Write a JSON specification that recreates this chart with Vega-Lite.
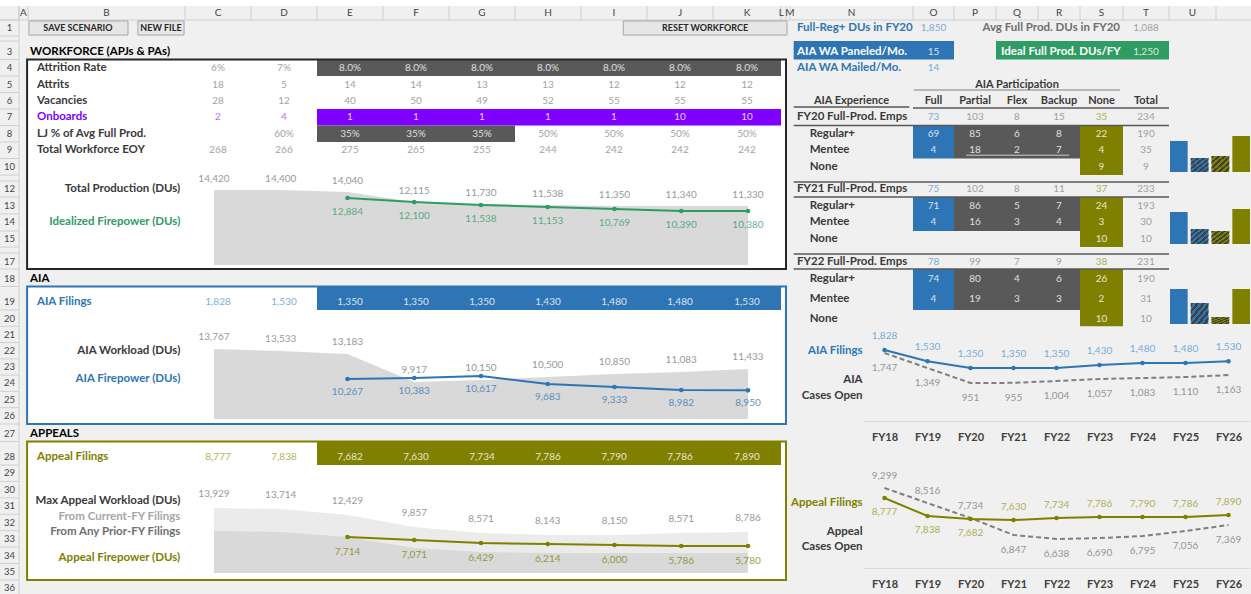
{
"$schema": "https://vega.github.io/schema/vega-lite/v6.json",
"width": 1251, "height": 594, "autosize": "none", "padding": 0,
"background": "#f0f0f0",
"config": {"view": {"stroke": null}, "font": "Lato"},
"resolve": {"scale": {"x": "independent", "y": "independent", "color": "independent", "stroke": "independent"}},
"datasets": {
"cells": [
{"c1":5,"c2":12,"r1":4,"r2":5,"k":"input"},
{"c1":5,"c2":12,"r1":7,"r2":8,"k":"onboard"},
{"c1":5,"c2":8,"r1":8,"r2":9,"k":"input"},
{"c1":5,"c2":12,"r1":19,"r2":20,"k":"aia"},
{"c1":5,"c2":12,"r1":28,"r2":29,"k":"appeal"},
{"c1":14.03,"c2":16,"r1":3,"r2":4,"k":"aia"},
{"c1":17,"c2":21,"r1":3,"r2":4,"k":"ideal"},
{"c1":15,"c2":16,"r1":8,"r2":10,"k":"aia"},
{"c1":16,"c2":19,"r1":8,"r2":10,"k":"input"},
{"c1":19,"c2":20,"r1":8,"r2":11,"k":"appeal"},
{"c1":15,"c2":16,"r1":13,"r2":15,"k":"aia"},
{"c1":16,"c2":19,"r1":13,"r2":15,"k":"input"},
{"c1":19,"c2":20,"r1":13,"r2":16,"k":"appeal"},
{"c1":15,"c2":16,"r1":18,"r2":20,"k":"aia"},
{"c1":16,"c2":19,"r1":18,"r2":20,"k":"input"},
{"c1":19,"c2":20,"r1":18,"r2":21,"k":"appeal"}],
"boxes": [
{"c1":1.9,"c2":13,"r1":4,"r2":18,"k":"wf"},
{"c1":1.9,"c2":13,"r1":19,"r2":27,"k":"aia"},
{"c1":1.9,"c2":13,"r1":28,"r2":36,"k":"appeal"}],
"buttons": [
{"c1":2.006,"c2":2.637,"r1":1.06,"r2":1.94},
{"c1":2.70,"c2":2.994,"r1":1.06,"r2":1.94},
{"c1":9.64,"c2":13.25,"r1":1.06,"r2":1.94}],
"btntext": [
{"c":2.318,"r":1,"s":"SAVE SCENARIO"},
{"c":2.847,"r":1,"s":"NEW FILE"},
{"c":10.88,"r":1,"s":"RESET WORKFORCE"}],
"lines": [
{"c1":15.02,"c2":19.93,"r":5.85,"k":"light"},
{"c1":14.03,"c2":14.97,"r":6.88,"k":"dark"},
{"c1":15,"c2":21,"r":6.94,"k":"dark"},
{"c1":14.03,"c2":21,"r":8,"k":"dark"},
{"c1":14.03,"c2":21,"r":12.06,"k":"dark"},
{"c1":14.03,"c2":21,"r":13,"k":"dark"},
{"c1":14.03,"c2":21,"r":17.06,"k":"dark"},
{"c1":14.03,"c2":21,"r":18,"k":"dark"},
{"c1":16.29,"c2":18.74,"r":9.8,"k":"light"}],
"colsep": [{"c":1},{"c":2},{"c":3},{"c":4},{"c":5},{"c":6},{"c":7},{"c":8},{"c":9},{"c":10},{"c":11},{"c":12},{"c":13},{"c":14},{"c":15},{"c":16},{"c":17},{"c":18},{"c":19},{"c":20},{"c":21},{"c":22}],
"rowsep": [{"r":1},{"r":2},{"r":3},{"r":4},{"r":5},{"r":6},{"r":7},{"r":8},{"r":9},{"r":10},{"r":11},{"r":12},{"r":13},{"r":14},{"r":15},{"r":16},{"r":17},{"r":18},{"r":19},{"r":20},{"r":21},{"r":22},{"r":23},{"r":24},{"r":25},{"r":26},{"r":27},{"r":28},{"r":29},{"r":30},{"r":31},{"r":32},{"r":33},{"r":34},{"r":35},{"r":36},{"r":37}],
"colhdr": [{"c":1.5,"s":"A"},{"c":2.5,"s":"B"},{"c":3.5,"s":"C"},{"c":4.5,"s":"D"},{"c":5.5,"s":"E"},{"c":6.5,"s":"F"},{"c":7.5,"s":"G"},{"c":8.5,"s":"H"},{"c":9.5,"s":"I"},{"c":10.5,"s":"J"},{"c":11.5,"s":"K"},{"c":12.05,"s":"L"},{"c":13.98,"s":"M"},{"c":14.5,"s":"N"},{"c":15.5,"s":"O"},{"c":16.5,"s":"P"},{"c":17.5,"s":"Q"},{"c":18.5,"s":"R"},{"c":19.5,"s":"S"},{"c":20.5,"s":"T"},{"c":21.5,"s":"U"}],
"rownum": [{"r":1},{"r":3},{"r":4},{"r":5},{"r":6},{"r":7},{"r":8},{"r":9},{"r":10},{"r":12},{"r":13},{"r":14},{"r":15},{"r":17},{"r":18},{"r":19},{"r":20},{"r":21},{"r":22},{"r":23},{"r":24},{"r":25},{"r":26},{"r":27},{"r":28},{"r":29},{"r":30},{"r":31},{"r":32},{"r":33},{"r":34},{"r":35},{"r":36}],
"tl": [
{"c":2.013,"r":3,"s":"WORKFORCE (APJs & PAs)","g":"head"},
{"c":2.057,"r":4,"s":"Attrition Rate","g":"label"},
{"c":2.057,"r":5,"s":"Attrits","g":"label"},
{"c":2.057,"r":6,"s":"Vacancies","g":"label"},
{"c":2.057,"r":7,"s":"Onboards","g":"onboard"},
{"c":2.057,"r":8,"s":"LJ % of Avg Full Prod.","g":"label"},
{"c":2.057,"r":9,"s":"Total Workforce EOY","g":"label"},
{"c":2.013,"r":18,"s":"AIA","g":"head"},
{"c":2.057,"r":19,"s":"AIA Filings","g":"aia"},
{"c":2.013,"r":27,"s":"APPEALS","g":"head"},
{"c":2.057,"r":28,"s":"Appeal Filings","g":"appeal"},
{"c":14.057,"r":1,"s":"Full-Reg+ DUs in FY20","g":"aia"},
{"c":14.057,"r":3,"s":"AIA WA Paneled/Mo.","g":"white"},
{"c":14.057,"r":4,"s":"AIA WA Mailed/Mo.","g":"aia"},
{"c":17.12,"r":3,"s":"Ideal Full Prod. DUs/FY","g":"white"},
{"c":14.057,"r":7,"s":"FY20 Full-Prod. Emps","g":"label"},
{"c":14.16,"r":8,"s":"Regular+","g":"label"},
{"c":14.16,"r":9,"s":"Mentee","g":"label"},
{"c":14.16,"r":10,"s":"None","g":"label"},
{"c":14.057,"r":12,"s":"FY21 Full-Prod. Emps","g":"label"},
{"c":14.16,"r":13,"s":"Regular+","g":"label"},
{"c":14.16,"r":14,"s":"Mentee","g":"label"},
{"c":14.16,"r":15,"s":"None","g":"label"},
{"c":14.057,"r":17,"s":"FY22 Full-Prod. Emps","g":"label"},
{"c":14.16,"r":18,"s":"Regular+","g":"label"},
{"c":14.16,"r":18.85,"s":"Mentee","g":"label"},
{"c":14.16,"r":20,"s":"None","g":"label"}],
"tc": [
{"c":3.5,"r":3,"s":"FY18"},{"c":4.5,"r":3,"s":"FY19"},{"c":5.5,"r":3,"s":"FY20"},{"c":6.5,"r":3,"s":"FY21"},{"c":7.5,"r":3,"s":"FY22"},{"c":8.5,"r":3,"s":"FY23"},{"c":9.5,"r":3,"s":"FY24"},{"c":10.5,"r":3,"s":"FY25"},{"c":11.5,"r":3,"s":"FY26"},
{"c":3.5,"r":18,"s":"FY18"},{"c":4.5,"r":18,"s":"FY19"},{"c":5.5,"r":18,"s":"FY20"},{"c":6.5,"r":18,"s":"FY21"},{"c":7.5,"r":18,"s":"FY22"},{"c":8.5,"r":18,"s":"FY23"},{"c":9.5,"r":18,"s":"FY24"},{"c":10.5,"r":18,"s":"FY25"},{"c":11.5,"r":18,"s":"FY26"},
{"c":3.5,"r":27,"s":"FY18"},{"c":4.5,"r":27,"s":"FY19"},{"c":5.5,"r":27,"s":"FY20"},{"c":6.5,"r":27,"s":"FY21"},{"c":7.5,"r":27,"s":"FY22"},{"c":8.5,"r":27,"s":"FY23"},{"c":9.5,"r":27,"s":"FY24"},{"c":10.5,"r":27,"s":"FY25"},{"c":11.5,"r":27,"s":"FY26"},
{"c":17.5,"r":5,"s":"AIA Participation","g":"label"},
{"c":14.5,"r":6,"s":"AIA Experience","g":"label"},
{"c":15.5,"r":6,"s":"Full","g":"label"},
{"c":16.5,"r":6,"s":"Partial","g":"label"},
{"c":17.5,"r":6,"s":"Flex","g":"label"},
{"c":18.5,"r":6,"s":"Backup","g":"label"},
{"c":19.5,"r":6,"s":"None","g":"label"},
{"c":20.5,"r":6,"s":"Total","g":"label"}],
"tr": [
{"c":2.97,"r":12,"s":"Total Production (DUs)","g":"label"},
{"c":2.97,"r":14,"s":"Idealized Firepower (DUs)","g":"ideal"},
{"c":2.97,"r":22,"s":"AIA Workload (DUs)","g":"label"},
{"c":2.97,"r":23.75,"s":"AIA Firepower (DUs)","g":"aia"},
{"c":2.97,"r":30.7,"s":"Max Appeal Workload (DUs)","g":"label"},
{"c":2.97,"r":31.67,"s":"From Current-FY Filings","g":"light"},
{"c":2.97,"r":32.58,"s":"From Any Prior-FY Filings","g":"mid"},
{"c":2.97,"r":34.15,"s":"Appeal Firepower (DUs)","g":"appeal"},
{"c":19.93,"r":1,"s":"Avg Full Prod. DUs in FY20","g":"mid"},
{"c":14.59,"r":22,"s":"AIA Filings","g":"aia"},
{"c":14.59,"r":23.8,"s":"AIA","g":"label"},
{"c":14.59,"r":24.8,"s":"Cases Open","g":"label"},
{"c":14.59,"r":30.8,"s":"Appeal Filings","g":"appeal"},
{"c":14.59,"r":32.58,"s":"Appeal","g":"label"},
{"c":14.59,"r":33.48,"s":"Cases Open","g":"label"}],
"vals": [
{"c":3.5,"r":4,"s":"6%","g":"val"},{"c":4.5,"r":4,"s":"7%","g":"val"},{"c":5.5,"r":4,"s":"8.0%","g":"white"},{"c":6.5,"r":4,"s":"8.0%","g":"white"},{"c":7.5,"r":4,"s":"8.0%","g":"white"},{"c":8.5,"r":4,"s":"8.0%","g":"white"},{"c":9.5,"r":4,"s":"8.0%","g":"white"},{"c":10.5,"r":4,"s":"8.0%","g":"white"},{"c":11.5,"r":4,"s":"8.0%","g":"white"},
{"c":3.5,"r":5,"s":"18","g":"val"},{"c":4.5,"r":5,"s":"5","g":"val"},{"c":5.5,"r":5,"s":"14","g":"val"},{"c":6.5,"r":5,"s":"14","g":"val"},{"c":7.5,"r":5,"s":"13","g":"val"},{"c":8.5,"r":5,"s":"13","g":"val"},{"c":9.5,"r":5,"s":"12","g":"val"},{"c":10.5,"r":5,"s":"12","g":"val"},{"c":11.5,"r":5,"s":"12","g":"val"},
{"c":3.5,"r":6,"s":"28","g":"val"},{"c":4.5,"r":6,"s":"12","g":"val"},{"c":5.5,"r":6,"s":"40","g":"val"},{"c":6.5,"r":6,"s":"50","g":"val"},{"c":7.5,"r":6,"s":"49","g":"val"},{"c":8.5,"r":6,"s":"52","g":"val"},{"c":9.5,"r":6,"s":"55","g":"val"},{"c":10.5,"r":6,"s":"55","g":"val"},{"c":11.5,"r":6,"s":"55","g":"val"},
{"c":3.5,"r":7,"s":"2","g":"onboardv"},{"c":4.5,"r":7,"s":"4","g":"onboardv"},{"c":5.5,"r":7,"s":"1","g":"white"},{"c":6.5,"r":7,"s":"1","g":"white"},{"c":7.5,"r":7,"s":"1","g":"white"},{"c":8.5,"r":7,"s":"1","g":"white"},{"c":9.5,"r":7,"s":"1","g":"white"},{"c":10.5,"r":7,"s":"10","g":"white"},{"c":11.5,"r":7,"s":"10","g":"white"},
{"c":4.5,"r":8,"s":"60%","g":"val"},{"c":5.5,"r":8,"s":"35%","g":"white"},{"c":6.5,"r":8,"s":"35%","g":"white"},{"c":7.5,"r":8,"s":"35%","g":"white"},{"c":8.5,"r":8,"s":"50%","g":"val"},{"c":9.5,"r":8,"s":"50%","g":"val"},{"c":10.5,"r":8,"s":"50%","g":"val"},{"c":11.5,"r":8,"s":"50%","g":"val"},
{"c":3.5,"r":9,"s":"268","g":"val"},{"c":4.5,"r":9,"s":"266","g":"val"},{"c":5.5,"r":9,"s":"275","g":"val"},{"c":6.5,"r":9,"s":"265","g":"val"},{"c":7.5,"r":9,"s":"255","g":"val"},{"c":8.5,"r":9,"s":"244","g":"val"},{"c":9.5,"r":9,"s":"242","g":"val"},{"c":10.5,"r":9,"s":"242","g":"val"},{"c":11.5,"r":9,"s":"242","g":"val"},
{"c":3.5,"r":19,"s":"1,828","g":"aiav"},{"c":4.5,"r":19,"s":"1,530","g":"aiav"},{"c":5.5,"r":19,"s":"1,350","g":"white"},{"c":6.5,"r":19,"s":"1,350","g":"white"},{"c":7.5,"r":19,"s":"1,350","g":"white"},{"c":8.5,"r":19,"s":"1,430","g":"white"},{"c":9.5,"r":19,"s":"1,480","g":"white"},{"c":10.5,"r":19,"s":"1,480","g":"white"},{"c":11.5,"r":19,"s":"1,530","g":"white"},
{"c":3.5,"r":28,"s":"8,777","g":"appealv"},{"c":4.5,"r":28,"s":"7,838","g":"appealv"},{"c":5.5,"r":28,"s":"7,682","g":"white"},{"c":6.5,"r":28,"s":"7,630","g":"white"},{"c":7.5,"r":28,"s":"7,734","g":"white"},{"c":8.5,"r":28,"s":"7,786","g":"white"},{"c":9.5,"r":28,"s":"7,790","g":"white"},{"c":10.5,"r":28,"s":"7,786","g":"white"},{"c":11.5,"r":28,"s":"7,890","g":"white"},
{"c":15.5,"r":1,"s":"1,850","g":"aiav"},{"c":20.5,"r":1,"s":"1,088","g":"val"},
{"c":15.5,"r":3,"s":"15","g":"white"},{"c":20.5,"r":3,"s":"1,250","g":"white"},
{"c":15.5,"r":4,"s":"14","g":"aiav"},
{"c":15.5,"r":7,"s":"73","g":"aiav"},{"c":16.5,"r":7,"s":"103","g":"val"},{"c":17.5,"r":7,"s":"8","g":"val"},{"c":18.5,"r":7,"s":"15","g":"val"},{"c":19.5,"r":7,"s":"35","g":"appealv"},{"c":20.5,"r":7,"s":"234","g":"val"},
{"c":15.5,"r":8,"s":"69","g":"white"},{"c":16.5,"r":8,"s":"85","g":"white"},{"c":17.5,"r":8,"s":"6","g":"white"},{"c":18.5,"r":8,"s":"8","g":"white"},{"c":19.5,"r":8,"s":"22","g":"white"},{"c":20.5,"r":8,"s":"190","g":"val"},
{"c":15.5,"r":9,"s":"4","g":"white"},{"c":16.5,"r":9,"s":"18","g":"white"},{"c":17.5,"r":9,"s":"2","g":"white"},{"c":18.5,"r":9,"s":"7","g":"white"},{"c":19.5,"r":9,"s":"4","g":"white"},{"c":20.5,"r":9,"s":"35","g":"val"},
{"c":19.5,"r":10,"s":"9","g":"white"},{"c":20.5,"r":10,"s":"9","g":"val"},
{"c":15.5,"r":12,"s":"75","g":"aiav"},{"c":16.5,"r":12,"s":"102","g":"val"},{"c":17.5,"r":12,"s":"8","g":"val"},{"c":18.5,"r":12,"s":"11","g":"val"},{"c":19.5,"r":12,"s":"37","g":"appealv"},{"c":20.5,"r":12,"s":"233","g":"val"},
{"c":15.5,"r":13,"s":"71","g":"white"},{"c":16.5,"r":13,"s":"86","g":"white"},{"c":17.5,"r":13,"s":"5","g":"white"},{"c":18.5,"r":13,"s":"7","g":"white"},{"c":19.5,"r":13,"s":"24","g":"white"},{"c":20.5,"r":13,"s":"193","g":"val"},
{"c":15.5,"r":14,"s":"4","g":"white"},{"c":16.5,"r":14,"s":"16","g":"white"},{"c":17.5,"r":14,"s":"3","g":"white"},{"c":18.5,"r":14,"s":"4","g":"white"},{"c":19.5,"r":14,"s":"3","g":"white"},{"c":20.5,"r":14,"s":"30","g":"val"},
{"c":19.5,"r":15,"s":"10","g":"white"},{"c":20.5,"r":15,"s":"10","g":"val"},
{"c":15.5,"r":17,"s":"78","g":"aiav"},{"c":16.5,"r":17,"s":"99","g":"val"},{"c":17.5,"r":17,"s":"7","g":"val"},{"c":18.5,"r":17,"s":"9","g":"val"},{"c":19.5,"r":17,"s":"38","g":"appealv"},{"c":20.5,"r":17,"s":"231","g":"val"},
{"c":15.5,"r":18,"s":"74","g":"white"},{"c":16.5,"r":18,"s":"80","g":"white"},{"c":17.5,"r":18,"s":"4","g":"white"},{"c":18.5,"r":18,"s":"6","g":"white"},{"c":19.5,"r":18,"s":"26","g":"white"},{"c":20.5,"r":18,"s":"190","g":"val"},
{"c":15.5,"r":18.85,"s":"4","g":"white"},{"c":16.5,"r":18.85,"s":"19","g":"white"},{"c":17.5,"r":18.85,"s":"3","g":"white"},{"c":18.5,"r":18.85,"s":"3","g":"white"},{"c":19.5,"r":18.85,"s":"2","g":"white"},{"c":20.5,"r":18.85,"s":"31","g":"val"},
{"c":19.5,"r":20,"s":"10","g":"white"},{"c":20.5,"r":20,"s":"10","g":"val"}],
"wf": [
{"fy":"FY18","prod":14420},{"fy":"FY19","prod":14400},{"fy":"FY20","prod":14040,"ideal":12884},{"fy":"FY21","prod":12115,"ideal":12100},{"fy":"FY22","prod":11730,"ideal":11538},{"fy":"FY23","prod":11538,"ideal":11153},{"fy":"FY24","prod":11350,"ideal":10769},{"fy":"FY25","prod":11340,"ideal":10390},{"fy":"FY26","prod":11330,"ideal":10380}],
"aia": [
{"fy":"FY18","wl":13767},{"fy":"FY19","wl":13533},{"fy":"FY20","wl":13183,"fp":10267},{"fy":"FY21","wl":9917,"fp":10383},{"fy":"FY22","wl":10150,"fp":10617},{"fy":"FY23","wl":10500,"fp":9683},{"fy":"FY24","wl":10850,"fp":9333},{"fy":"FY25","wl":11083,"fp":8982},{"fy":"FY26","wl":11433,"fp":8950}],
"app": [
{"fy":"FY18","tot":13929,"prior":9000},{"fy":"FY19","tot":13714,"prior":8786},{"fy":"FY20","tot":12429,"prior":7714,"fp":7714},{"fy":"FY21","tot":9857,"prior":5357,"fp":7071},{"fy":"FY22","tot":8571,"prior":4500,"fp":6429},{"fy":"FY23","tot":8143,"prior":4286,"fp":6214},{"fy":"FY24","tot":8150,"prior":4280,"fp":6000},{"fy":"FY25","tot":8571,"prior":4290,"fp":5786},{"fy":"FY26","tot":8786,"prior":4300,"fp":5780}],
"aiaR": [
{"fy":"FY18","fil":1828,"open":1747},{"fy":"FY19","fil":1530,"open":1349},{"fy":"FY20","fil":1350,"open":951},{"fy":"FY21","fil":1350,"open":955},{"fy":"FY22","fil":1350,"open":1004},{"fy":"FY23","fil":1430,"open":1057},{"fy":"FY24","fil":1480,"open":1083},{"fy":"FY25","fil":1480,"open":1110},{"fy":"FY26","fil":1530,"open":1163}],
"appR": [
{"fy":"FY18","fil":8777,"open":9299},{"fy":"FY19","fil":7838,"open":8516},{"fy":"FY20","fil":7682,"open":7734},{"fy":"FY21","fil":7630,"open":6847},{"fy":"FY22","fil":7734,"open":6638},{"fy":"FY23","fil":7786,"open":6690},{"fy":"FY24","fil":7790,"open":6795},{"fy":"FY25","fil":7786,"open":7056},{"fy":"FY26","fil":7890,"open":7369}],
"bars": [
{"grp":"FY20","k":"Full","v":31},{"grp":"FY20","k":"Partial","v":14},{"grp":"FY20","k":"Flex","v":16},{"grp":"FY20","k":"None","v":36},
{"grp":"FY21","k":"Full","v":32},{"grp":"FY21","k":"Partial","v":15},{"grp":"FY21","k":"Flex","v":13},{"grp":"FY21","k":"None","v":35},
{"grp":"FY22","k":"Full","v":35},{"grp":"FY22","k":"Partial","v":21},{"grp":"FY22","k":"Flex","v":7},{"grp":"FY22","k":"None","v":35}]
},
"layer": [
{"data":{"values":[{}]},"mark":{"type":"rect","color":"#ffffff"},
 "encoding":{"x":{"datum":0,"type":"quantitative","scale":{"type":"linear","domain":[0,1,2,3,4,5,6,7,8,9,10,11,12,13,14,15,16,17,18,19,20,21,22,23],"range":[0,19,28,185,251,317,383,449,515,581,647,713,781,786,790,913,954,996,1038,1080,1123,1169,1216,1251],"nice":false,"zero":false},"axis":null},"x2":{"datum":23},
 "y":{"datum":-1,"type":"quantitative","scale":{"type":"linear","domain":[-1,0,1,2,3,4,5,6,7,8,9,10,11,12,13,14,15,16,17,18,19,20,21,22,23,24,25,26,27,28,29,30,31,32,33,34,35,36,37],"range":[0,6,20,36,41,59.5,76,92.5,109,125.5,142,158.5,175,181,197,214,231,247,253,269,286.5,310,326.3,342.6,358.9,375.1,391.4,407.7,424,441.5,465,481.4,497.9,514.3,530.7,547.1,563.6,580,596],"nice":false,"zero":false},"axis":null},"y2":{"datum":0}}},
{"data":{"values":[{}]},"mark":{"type":"rule","color":"#d0d0d0","strokeWidth":1},
 "encoding":{"x":{"datum":0,"type":"quantitative","scale":{"type":"linear","domain":[0,1,2,3,4,5,6,7,8,9,10,11,12,13,14,15,16,17,18,19,20,21,22,23],"range":[0,19,28,185,251,317,383,449,515,581,647,713,781,786,790,913,954,996,1038,1080,1123,1169,1216,1251],"nice":false,"zero":false},"axis":null},"x2":{"datum":23},
 "y":{"datum":1,"type":"quantitative","scale":{"type":"linear","domain":[-1,0,1,2,3,4,5,6,7,8,9,10,11,12,13,14,15,16,17,18,19,20,21,22,23,24,25,26,27,28,29,30,31,32,33,34,35,36,37],"range":[0,6,20,36,41,59.5,76,92.5,109,125.5,142,158.5,175,181,197,214,231,247,253,269,286.5,310,326.3,342.6,358.9,375.1,391.4,407.7,424,441.5,465,481.4,497.9,514.3,530.7,547.1,563.6,580,596],"nice":false,"zero":false},"axis":null}}},
{"data":{"values":[{}]},"mark":{"type":"rule","color":"#d0d0d0","strokeWidth":1},
 "encoding":{"x":{"datum":1,"type":"quantitative","scale":{"type":"linear","domain":[0,1,2,3,4,5,6,7,8,9,10,11,12,13,14,15,16,17,18,19,20,21,22,23],"range":[0,19,28,185,251,317,383,449,515,581,647,713,781,786,790,913,954,996,1038,1080,1123,1169,1216,1251],"nice":false,"zero":false},"axis":null},
 "y":{"datum":0,"type":"quantitative","scale":{"type":"linear","domain":[-1,0,1,2,3,4,5,6,7,8,9,10,11,12,13,14,15,16,17,18,19,20,21,22,23,24,25,26,27,28,29,30,31,32,33,34,35,36,37],"range":[0,6,20,36,41,59.5,76,92.5,109,125.5,142,158.5,175,181,197,214,231,247,253,269,286.5,310,326.3,342.6,358.9,375.1,391.4,407.7,424,441.5,465,481.4,497.9,514.3,530.7,547.1,563.6,580,596],"nice":false,"zero":false},"axis":null},"y2":{"datum":37}}},
{"data":{"name":"colsep"},"mark":{"type":"rule","color":"#d0d0d0","strokeWidth":1},
 "encoding":{"x":{"field":"c","type":"quantitative","scale":{"type":"linear","domain":[0,1,2,3,4,5,6,7,8,9,10,11,12,13,14,15,16,17,18,19,20,21,22,23],"range":[0,19,28,185,251,317,383,449,515,581,647,713,781,786,790,913,954,996,1038,1080,1123,1169,1216,1251],"nice":false,"zero":false},"axis":null},
 "y":{"datum":0,"type":"quantitative","scale":{"type":"linear","domain":[-1,0,1,2,3,4,5,6,7,8,9,10,11,12,13,14,15,16,17,18,19,20,21,22,23,24,25,26,27,28,29,30,31,32,33,34,35,36,37],"range":[0,6,20,36,41,59.5,76,92.5,109,125.5,142,158.5,175,181,197,214,231,247,253,269,286.5,310,326.3,342.6,358.9,375.1,391.4,407.7,424,441.5,465,481.4,497.9,514.3,530.7,547.1,563.6,580,596],"nice":false,"zero":false},"axis":null},"y2":{"datum":1}}},
{"data":{"name":"rowsep"},"mark":{"type":"rule","color":"#d0d0d0","strokeWidth":1},
 "encoding":{"x":{"datum":0,"type":"quantitative","scale":{"type":"linear","domain":[0,1,2,3,4,5,6,7,8,9,10,11,12,13,14,15,16,17,18,19,20,21,22,23],"range":[0,19,28,185,251,317,383,449,515,581,647,713,781,786,790,913,954,996,1038,1080,1123,1169,1216,1251],"nice":false,"zero":false},"axis":null},"x2":{"datum":1},
 "y":{"field":"r","type":"quantitative","scale":{"type":"linear","domain":[-1,0,1,2,3,4,5,6,7,8,9,10,11,12,13,14,15,16,17,18,19,20,21,22,23,24,25,26,27,28,29,30,31,32,33,34,35,36,37],"range":[0,6,20,36,41,59.5,76,92.5,109,125.5,142,158.5,175,181,197,214,231,247,253,269,286.5,310,326.3,342.6,358.9,375.1,391.4,407.7,424,441.5,465,481.4,497.9,514.3,530.7,547.1,563.6,580,596],"nice":false,"zero":false},"axis":null}}},
{"data":{"name":"colhdr"},"mark":{"type":"text","font":"Lato","fontSize":10,"color":"#444444","baseline":"middle","align":"center"},
 "encoding":{"x":{"field":"c","type":"quantitative","scale":{"type":"linear","domain":[0,1,2,3,4,5,6,7,8,9,10,11,12,13,14,15,16,17,18,19,20,21,22,23],"range":[0,19,28,185,251,317,383,449,515,581,647,713,781,786,790,913,954,996,1038,1080,1123,1169,1216,1251],"nice":false,"zero":false},"axis":null},
 "y":{"datum":0,"type":"quantitative","scale":{"type":"linear","domain":[0,1,2,3,4,5,6,7,8,9,10,11,12,13,14,15,16,17,18,19,20,21,22,23,24,25,26,27,28,29,30,31,32,33,34,35,36],"range":[13,28,38.5,52,68,84.5,100.5,117,134,150,166.5,178,189,206,222,239,250,261.5,279,302,318.5,334.5,350.5,367,383,399.5,416,433.5,457,473,490,506,522.5,539,555.5,572,588],"nice":false,"zero":false},"axis":null},
 "text":{"field":"s"}}},
{"data":{"name":"rownum"},"mark":{"type":"text","font":"Lato","fontSize":9.5,"color":"#444444","baseline":"middle","align":"center"},
 "encoding":{"x":{"datum":0.5,"type":"quantitative","scale":{"type":"linear","domain":[0,1,2,3,4,5,6,7,8,9,10,11,12,13,14,15,16,17,18,19,20,21,22,23],"range":[0,19,28,185,251,317,383,449,515,581,647,713,781,786,790,913,954,996,1038,1080,1123,1169,1216,1251],"nice":false,"zero":false},"axis":null},
 "y":{"field":"r","type":"quantitative","scale":{"type":"linear","domain":[0,1,2,3,4,5,6,7,8,9,10,11,12,13,14,15,16,17,18,19,20,21,22,23,24,25,26,27,28,29,30,31,32,33,34,35,36],"range":[13,28,38.5,52,68,84.5,100.5,117,134,150,166.5,178,189,206,222,239,250,261.5,279,302,318.5,334.5,350.5,367,383,399.5,416,433.5,457,473,490,506,522.5,539,555.5,572,588],"nice":false,"zero":false},"axis":null},
 "text":{"field":"r","type":"nominal"}}},
{"data":{"name":"boxes"},"mark":{"type":"rect","color":"#ffffff"},
 "encoding":{"x":{"field":"c1","type":"quantitative","scale":{"type":"linear","domain":[0,1,2,3,4,5,6,7,8,9,10,11,12,13,14,15,16,17,18,19,20,21,22,23],"range":[0,19,28,185,251,317,383,449,515,581,647,713,781,786,790,913,954,996,1038,1080,1123,1169,1216,1251],"nice":false,"zero":false},"axis":null},"x2":{"field":"c2"},
 "y":{"field":"r1","type":"quantitative","scale":{"type":"linear","domain":[-1,0,1,2,3,4,5,6,7,8,9,10,11,12,13,14,15,16,17,18,19,20,21,22,23,24,25,26,27,28,29,30,31,32,33,34,35,36,37],"range":[0,6,20,36,41,59.5,76,92.5,109,125.5,142,158.5,175,181,197,214,231,247,253,269,286.5,310,326.3,342.6,358.9,375.1,391.4,407.7,424,441.5,465,481.4,497.9,514.3,530.7,547.1,563.6,580,596],"nice":false,"zero":false},"axis":null},"y2":{"field":"r2"}}},
{"data":{"name":"cells"},"mark":{"type":"rect"},
 "encoding":{"x":{"field":"c1","type":"quantitative","scale":{"type":"linear","domain":[0,1,2,3,4,5,6,7,8,9,10,11,12,13,14,15,16,17,18,19,20,21,22,23],"range":[0,19,28,185,251,317,383,449,515,581,647,713,781,786,790,913,954,996,1038,1080,1123,1169,1216,1251],"nice":false,"zero":false},"axis":null},"x2":{"field":"c2"},
 "y":{"field":"r1","type":"quantitative","scale":{"type":"linear","domain":[-1,0,1,2,3,4,5,6,7,8,9,10,11,12,13,14,15,16,17,18,19,20,21,22,23,24,25,26,27,28,29,30,31,32,33,34,35,36,37],"range":[0,6,20,36,41,59.5,76,92.5,109,125.5,142,158.5,175,181,197,214,231,247,253,269,286.5,310,326.3,342.6,358.9,375.1,391.4,407.7,424,441.5,465,481.4,497.9,514.3,530.7,547.1,563.6,580,596],"nice":false,"zero":false},"axis":null},"y2":{"field":"r2"},
 "color":{"field":"k","type":"nominal","scale":{"domain":["input","onboard","aia","appeal","ideal"],"range":["#595959","#7f00ff","#2e75b6","#808000","#2e9c63"]},"legend":null}}},
{"data":{"name":"buttons"},"mark":{"type":"rect","fill":"#e6e6e6","stroke":"#a6a6a6","strokeWidth":1},
 "encoding":{"x":{"field":"c1","type":"quantitative","scale":{"type":"linear","domain":[0,1,2,3,4,5,6,7,8,9,10,11,12,13,14,15,16,17,18,19,20,21,22,23],"range":[0,19,28,185,251,317,383,449,515,581,647,713,781,786,790,913,954,996,1038,1080,1123,1169,1216,1251],"nice":false,"zero":false},"axis":null},"x2":{"field":"c2"},
 "y":{"field":"r1","type":"quantitative","scale":{"type":"linear","domain":[-1,0,1,2,3,4,5,6,7,8,9,10,11,12,13,14,15,16,17,18,19,20,21,22,23,24,25,26,27,28,29,30,31,32,33,34,35,36,37],"range":[0,6,20,36,41,59.5,76,92.5,109,125.5,142,158.5,175,181,197,214,231,247,253,269,286.5,310,326.3,342.6,358.9,375.1,391.4,407.7,424,441.5,465,481.4,497.9,514.3,530.7,547.1,563.6,580,596],"nice":false,"zero":false},"axis":null},"y2":{"field":"r2"}}},
{"data":{"name":"btntext"},"mark":{"type":"text","font":"Lato","fontWeight":"bold","fontSize":9,"color":"#262626","baseline":"middle","align":"center"},
 "encoding":{"x":{"field":"c","type":"quantitative","scale":{"type":"linear","domain":[0,1,2,3,4,5,6,7,8,9,10,11,12,13,14,15,16,17,18,19,20,21,22,23],"range":[0,19,28,185,251,317,383,449,515,581,647,713,781,786,790,913,954,996,1038,1080,1123,1169,1216,1251],"nice":false,"zero":false},"axis":null},
 "y":{"field":"r","type":"quantitative","scale":{"type":"linear","domain":[0,1,2,3,4,5,6,7,8,9,10,11,12,13,14,15,16,17,18,19,20,21,22,23,24,25,26,27,28,29,30,31,32,33,34,35,36],"range":[13,28,38.5,52,68,84.5,100.5,117,134,150,166.5,178,189,206,222,239,250,261.5,279,302,318.5,334.5,350.5,367,383,399.5,416,433.5,457,473,490,506,522.5,539,555.5,572,588],"nice":false,"zero":false},"axis":null},
 "text":{"field":"s"}}},
{"data":{"name":"lines"},"mark":{"type":"rule","strokeWidth":1.5},
 "encoding":{"x":{"field":"c1","type":"quantitative","scale":{"type":"linear","domain":[0,1,2,3,4,5,6,7,8,9,10,11,12,13,14,15,16,17,18,19,20,21,22,23],"range":[0,19,28,185,251,317,383,449,515,581,647,713,781,786,790,913,954,996,1038,1080,1123,1169,1216,1251],"nice":false,"zero":false},"axis":null},"x2":{"field":"c2"},
 "y":{"field":"r","type":"quantitative","scale":{"type":"linear","domain":[-1,0,1,2,3,4,5,6,7,8,9,10,11,12,13,14,15,16,17,18,19,20,21,22,23,24,25,26,27,28,29,30,31,32,33,34,35,36,37],"range":[0,6,20,36,41,59.5,76,92.5,109,125.5,142,158.5,175,181,197,214,231,247,253,269,286.5,310,326.3,342.6,358.9,375.1,391.4,407.7,424,441.5,465,481.4,497.9,514.3,530.7,547.1,563.6,580,596],"nice":false,"zero":false},"axis":null},
 "color":{"field":"k","type":"nominal","scale":{"domain":["dark","light"],"range":["#595959","#a6a6a6"]},"legend":null}}},
{"data":{"name":"wf"},"mark":{"type":"area","color":"#d9d9d9"},
 "encoding":{"x":{"field":"fy","type":"ordinal","scale":{"type":"point","domain":["FY18","FY19","FY20","FY21","FY22","FY23","FY24","FY25","FY26"],"range":[214,748],"padding":0},"axis":null},
 "y":{"field":"prod","type":"quantitative","scale":{"type":"linear","domain":[0,15000],"range":[265,187],"nice":false,"zero":false},"axis":null},"y2":{"datum":0}}},
{"data":{"name":"wf"},"transform":[{"filter":"isValid(datum.ideal)"}],"mark":{"type":"line","color":"#2e9c63","strokeWidth":2,"point":{"filled":true,"size":22,"color":"#2e9c63"}},
 "encoding":{"x":{"field":"fy","type":"ordinal","scale":{"type":"point","domain":["FY18","FY19","FY20","FY21","FY22","FY23","FY24","FY25","FY26"],"range":[214,748],"padding":0},"axis":null},
 "y":{"field":"ideal","type":"quantitative","scale":{"type":"linear","domain":[0,15000],"range":[265,187],"nice":false,"zero":false},"axis":null}}},
{"data":{"name":"wf"},"mark":{"type":"text","font":"Lato","fontSize":10,"color":"#7f7f7f","opacity":0.8,"dy":-11,"baseline":"middle"},
 "encoding":{"x":{"field":"fy","type":"ordinal","scale":{"type":"point","domain":["FY18","FY19","FY20","FY21","FY22","FY23","FY24","FY25","FY26"],"range":[214,748],"padding":0},"axis":null},
 "y":{"field":"prod","type":"quantitative","scale":{"type":"linear","domain":[0,15000],"range":[265,187],"nice":false,"zero":false},"axis":null},
 "text":{"field":"prod","type":"quantitative","format":",.0f"}}},
{"data":{"name":"wf"},"transform":[{"filter":"isValid(datum.ideal)"}],"mark":{"type":"text","font":"Lato","fontSize":10,"color":"#2e9c63","opacity":0.75,"dy":14,"baseline":"middle"},
 "encoding":{"x":{"field":"fy","type":"ordinal","scale":{"type":"point","domain":["FY18","FY19","FY20","FY21","FY22","FY23","FY24","FY25","FY26"],"range":[214,748],"padding":0},"axis":null},
 "y":{"field":"ideal","type":"quantitative","scale":{"type":"linear","domain":[0,15000],"range":[265,187],"nice":false,"zero":false},"axis":null},
 "text":{"field":"ideal","type":"quantitative","format":",.0f"}}},
{"data":{"name":"aia"},"mark":{"type":"area","color":"#d9d9d9"},
 "encoding":{"x":{"field":"fy","type":"ordinal","scale":{"type":"point","domain":["FY18","FY19","FY20","FY21","FY22","FY23","FY24","FY25","FY26"],"range":[214,748],"padding":0},"axis":null},
 "y":{"field":"wl","type":"quantitative","scale":{"type":"linear","domain":[5600,14000],"range":[419,347],"nice":false,"zero":false},"axis":null},"y2":{"datum":5600}}},
{"data":{"name":"aia"},"transform":[{"filter":"isValid(datum.fp)"}],"mark":{"type":"line","color":"#2e75b6","strokeWidth":2,"point":{"filled":true,"size":22,"color":"#2e75b6"}},
 "encoding":{"x":{"field":"fy","type":"ordinal","scale":{"type":"point","domain":["FY18","FY19","FY20","FY21","FY22","FY23","FY24","FY25","FY26"],"range":[214,748],"padding":0},"axis":null},
 "y":{"field":"fp","type":"quantitative","scale":{"type":"linear","domain":[5600,14000],"range":[419,347],"nice":false,"zero":false},"axis":null}}},
{"data":{"name":"aia"},"mark":{"type":"text","font":"Lato","fontSize":10,"color":"#7f7f7f","opacity":0.8,"dy":-12,"baseline":"middle"},
 "encoding":{"x":{"field":"fy","type":"ordinal","scale":{"type":"point","domain":["FY18","FY19","FY20","FY21","FY22","FY23","FY24","FY25","FY26"],"range":[214,748],"padding":0},"axis":null},
 "y":{"field":"wl","type":"quantitative","scale":{"type":"linear","domain":[5600,14000],"range":[419,347],"nice":false,"zero":false},"axis":null},
 "text":{"field":"wl","type":"quantitative","format":",.0f"}}},
{"data":{"name":"aia"},"transform":[{"filter":"isValid(datum.fp)"}],"mark":{"type":"text","font":"Lato","fontSize":10,"color":"#2e75b6","opacity":0.75,"dy":13,"baseline":"middle"},
 "encoding":{"x":{"field":"fy","type":"ordinal","scale":{"type":"point","domain":["FY18","FY19","FY20","FY21","FY22","FY23","FY24","FY25","FY26"],"range":[214,748],"padding":0},"axis":null},
 "y":{"field":"fp","type":"quantitative","scale":{"type":"linear","domain":[5600,14000],"range":[419,347],"nice":false,"zero":false},"axis":null},
 "text":{"field":"fp","type":"quantitative","format":",.0f"}}},
{"data":{"name":"app"},"mark":{"type":"area","color":"#ebebeb"},
 "encoding":{"x":{"field":"fy","type":"ordinal","scale":{"type":"point","domain":["FY18","FY19","FY20","FY21","FY22","FY23","FY24","FY25","FY26"],"range":[214,748],"padding":0},"axis":null},
 "y":{"field":"tot","type":"quantitative","scale":{"type":"linear","domain":[0,15000],"range":[573,503],"nice":false,"zero":false},"axis":null},"y2":{"datum":0}}},
{"data":{"name":"app"},"mark":{"type":"area","color":"#d9d9d9"},
 "encoding":{"x":{"field":"fy","type":"ordinal","scale":{"type":"point","domain":["FY18","FY19","FY20","FY21","FY22","FY23","FY24","FY25","FY26"],"range":[214,748],"padding":0},"axis":null},
 "y":{"field":"prior","type":"quantitative","scale":{"type":"linear","domain":[0,15000],"range":[573,503],"nice":false,"zero":false},"axis":null},"y2":{"datum":0}}},
{"data":{"name":"app"},"transform":[{"filter":"isValid(datum.fp)"}],"mark":{"type":"line","color":"#808000","strokeWidth":2,"point":{"filled":true,"size":22,"color":"#808000"}},
 "encoding":{"x":{"field":"fy","type":"ordinal","scale":{"type":"point","domain":["FY18","FY19","FY20","FY21","FY22","FY23","FY24","FY25","FY26"],"range":[214,748],"padding":0},"axis":null},
 "y":{"field":"fp","type":"quantitative","scale":{"type":"linear","domain":[0,15000],"range":[573,503],"nice":false,"zero":false},"axis":null}}},
{"data":{"name":"app"},"mark":{"type":"text","font":"Lato","fontSize":10,"color":"#7f7f7f","opacity":0.8,"dy":-14,"baseline":"middle"},
 "encoding":{"x":{"field":"fy","type":"ordinal","scale":{"type":"point","domain":["FY18","FY19","FY20","FY21","FY22","FY23","FY24","FY25","FY26"],"range":[214,748],"padding":0},"axis":null},
 "y":{"field":"tot","type":"quantitative","scale":{"type":"linear","domain":[0,15000],"range":[573,503],"nice":false,"zero":false},"axis":null},
 "text":{"field":"tot","type":"quantitative","format":",.0f"}}},
{"data":{"name":"app"},"transform":[{"filter":"isValid(datum.fp)"}],"mark":{"type":"text","font":"Lato","fontSize":10,"color":"#808000","opacity":0.75,"dy":15,"baseline":"middle"},
 "encoding":{"x":{"field":"fy","type":"ordinal","scale":{"type":"point","domain":["FY18","FY19","FY20","FY21","FY22","FY23","FY24","FY25","FY26"],"range":[214,748],"padding":0},"axis":null},
 "y":{"field":"fp","type":"quantitative","scale":{"type":"linear","domain":[0,15000],"range":[573,503],"nice":false,"zero":false},"axis":null},
 "text":{"field":"fp","type":"quantitative","format":",.0f"}}},
{"data":{"name":"boxes"},"mark":{"type":"rect","filled":false,"strokeWidth":2},
 "encoding":{"x":{"field":"c1","type":"quantitative","scale":{"type":"linear","domain":[0,1,2,3,4,5,6,7,8,9,10,11,12,13,14,15,16,17,18,19,20,21,22,23],"range":[0,19,28,185,251,317,383,449,515,581,647,713,781,786,790,913,954,996,1038,1080,1123,1169,1216,1251],"nice":false,"zero":false},"axis":null},"x2":{"field":"c2"},
 "y":{"field":"r1","type":"quantitative","scale":{"type":"linear","domain":[-1,0,1,2,3,4,5,6,7,8,9,10,11,12,13,14,15,16,17,18,19,20,21,22,23,24,25,26,27,28,29,30,31,32,33,34,35,36,37],"range":[0,6,20,36,41,59.5,76,92.5,109,125.5,142,158.5,175,181,197,214,231,247,253,269,286.5,310,326.3,342.6,358.9,375.1,391.4,407.7,424,441.5,465,481.4,497.9,514.3,530.7,547.1,563.6,580,596],"nice":false,"zero":false},"axis":null},"y2":{"field":"r2"},
 "color":{"field":"k","type":"nominal","scale":{"domain":["wf","aia","appeal"],"range":["#262626","#2e75b6","#808000"]},"legend":null}}},
{"data":{"name":"tl"},"mark":{"type":"text","font":"Lato","fontWeight":"bold","fontSize":11.5,"baseline":"middle","align":"left"},
 "encoding":{"x":{"field":"c","type":"quantitative","scale":{"type":"linear","domain":[0,1,2,3,4,5,6,7,8,9,10,11,12,13,14,15,16,17,18,19,20,21,22,23],"range":[0,19,28,185,251,317,383,449,515,581,647,713,781,786,790,913,954,996,1038,1080,1123,1169,1216,1251],"nice":false,"zero":false},"axis":null},
 "y":{"field":"r","type":"quantitative","scale":{"type":"linear","domain":[0,1,2,3,4,5,6,7,8,9,10,11,12,13,14,15,16,17,18,19,20,21,22,23,24,25,26,27,28,29,30,31,32,33,34,35,36],"range":[13,28,38.5,52,68,84.5,100.5,117,134,150,166.5,178,189,206,222,239,250,261.5,279,302,318.5,334.5,350.5,367,383,399.5,416,433.5,457,473,490,506,522.5,539,555.5,572,588],"nice":false,"zero":false},"axis":null},
 "text":{"field":"s"},
 "color":{"field":"g","type":"nominal","scale":{"domain":["head","label","aia","appeal","onboard","ideal","white","light","mid"],"range":["#000000","#3a3a3a","#2e75b6","#808000","#7f00ff","#2e9c63","#ffffff","#a6a6a6","#595959"]},"legend":null}}},
{"data":{"name":"tc"},"mark":{"type":"text","font":"Lato","fontWeight":"bold","fontSize":11,"baseline":"middle","align":"center"},
 "encoding":{"x":{"field":"c","type":"quantitative","scale":{"type":"linear","domain":[0,1,2,3,4,5,6,7,8,9,10,11,12,13,14,15,16,17,18,19,20,21,22,23],"range":[0,19,28,185,251,317,383,449,515,581,647,713,781,786,790,913,954,996,1038,1080,1123,1169,1216,1251],"nice":false,"zero":false},"axis":null},
 "y":{"field":"r","type":"quantitative","scale":{"type":"linear","domain":[0,1,2,3,4,5,6,7,8,9,10,11,12,13,14,15,16,17,18,19,20,21,22,23,24,25,26,27,28,29,30,31,32,33,34,35,36],"range":[13,28,38.5,52,68,84.5,100.5,117,134,150,166.5,178,189,206,222,239,250,261.5,279,302,318.5,334.5,350.5,367,383,399.5,416,433.5,457,473,490,506,522.5,539,555.5,572,588],"nice":false,"zero":false},"axis":null},
 "text":{"field":"s"},
 "color":{"field":"g","type":"nominal","scale":{"domain":["label"],"range":["#3a3a3a"],"unknown":"#000000"},"legend":null}}},
{"data":{"name":"tr"},"mark":{"type":"text","font":"Lato","fontWeight":"bold","fontSize":11.5,"baseline":"middle","align":"right"},
 "encoding":{"x":{"field":"c","type":"quantitative","scale":{"type":"linear","domain":[0,1,2,3,4,5,6,7,8,9,10,11,12,13,14,15,16,17,18,19,20,21,22,23],"range":[0,19,28,185,251,317,383,449,515,581,647,713,781,786,790,913,954,996,1038,1080,1123,1169,1216,1251],"nice":false,"zero":false},"axis":null},
 "y":{"field":"r","type":"quantitative","scale":{"type":"linear","domain":[0,1,2,3,4,5,6,7,8,9,10,11,12,13,14,15,16,17,18,19,20,21,22,23,24,25,26,27,28,29,30,31,32,33,34,35,36],"range":[13,28,38.5,52,68,84.5,100.5,117,134,150,166.5,178,189,206,222,239,250,261.5,279,302,318.5,334.5,350.5,367,383,399.5,416,433.5,457,473,490,506,522.5,539,555.5,572,588],"nice":false,"zero":false},"axis":null},
 "text":{"field":"s"},
 "color":{"field":"g","type":"nominal","scale":{"domain":["head","label","aia","appeal","onboard","ideal","white","light","mid"],"range":["#000000","#3a3a3a","#2e75b6","#808000","#7f00ff","#2e9c63","#ffffff","#a6a6a6","#6e6e6e"]},"legend":null}}},
{"data":{"name":"vals"},"mark":{"type":"text","font":"Lato","fontSize":10,"baseline":"middle","align":"center","opacity":0.8},
 "encoding":{"x":{"field":"c","type":"quantitative","scale":{"type":"linear","domain":[0,1,2,3,4,5,6,7,8,9,10,11,12,13,14,15,16,17,18,19,20,21,22,23],"range":[0,19,28,185,251,317,383,449,515,581,647,713,781,786,790,913,954,996,1038,1080,1123,1169,1216,1251],"nice":false,"zero":false},"axis":null},
 "y":{"field":"r","type":"quantitative","scale":{"type":"linear","domain":[0,1,2,3,4,5,6,7,8,9,10,11,12,13,14,15,16,17,18,19,20,21,22,23,24,25,26,27,28,29,30,31,32,33,34,35,36],"range":[13,28,38.5,52,68,84.5,100.5,117,134,150,166.5,178,189,206,222,239,250,261.5,279,302,318.5,334.5,350.5,367,383,399.5,416,433.5,457,473,490,506,522.5,539,555.5,572,588],"nice":false,"zero":false},"axis":null},
 "text":{"field":"s"},
 "color":{"field":"g","type":"nominal","scale":{"domain":["val","white","aiav","appealv","onboardv"],"range":["#8c8c8c","#ffffff","#5b9bd5","#a0a030","#a64dff"]},"legend":null}}},
{"data":{"name":"bars"},"transform":[{"filter":"datum.grp == 'FY20'"}],"mark":{"type":"bar"},
 "encoding":{"x":{"field":"k","type":"nominal","scale":{"type":"band","domain":["Full","Partial","Flex","None"],"range":[1170,1250],"paddingInner":0.15,"paddingOuter":0},"axis":null},
 "y":{"field":"v","type":"quantitative","scale":{"type":"linear","domain":[0,40],"range":[172,132],"nice":false,"zero":false},"axis":null},"y2":{"datum":0},
 "color":{"field":"k","type":"nominal","scale":{"domain":["Full","Partial","Flex","None"],"range":["#2e75b6","#2e75b6","#808000","#808000"]},"legend":null}}},
{"data":{"name":"bars"},"transform":[{"filter":"datum.grp == 'FY20' && (datum.k == 'Partial' || datum.k == 'Flex')"}],"mark":{"type":"bar","fill":{"gradient":"linear","x1":0,"y1":0,"x2":1,"y2":1,"stops":[{"offset":0,"color":"#404040"},{"offset":0.0833,"color":"#404040"},{"offset":0.0833,"color":"rgba(64,64,64,0)"},{"offset":0.1667,"color":"rgba(64,64,64,0)"},{"offset":0.1667,"color":"#404040"},{"offset":0.25,"color":"#404040"},{"offset":0.25,"color":"rgba(64,64,64,0)"},{"offset":0.3333,"color":"rgba(64,64,64,0)"},{"offset":0.3333,"color":"#404040"},{"offset":0.4167,"color":"#404040"},{"offset":0.4167,"color":"rgba(64,64,64,0)"},{"offset":0.5,"color":"rgba(64,64,64,0)"},{"offset":0.5,"color":"#404040"},{"offset":0.5833,"color":"#404040"},{"offset":0.5833,"color":"rgba(64,64,64,0)"},{"offset":0.6667,"color":"rgba(64,64,64,0)"},{"offset":0.6667,"color":"#404040"},{"offset":0.75,"color":"#404040"},{"offset":0.75,"color":"rgba(64,64,64,0)"},{"offset":0.8333,"color":"rgba(64,64,64,0)"},{"offset":0.8333,"color":"#404040"},{"offset":0.9167,"color":"#404040"},{"offset":0.9167,"color":"rgba(64,64,64,0)"},{"offset":1,"color":"rgba(64,64,64,0)"}]}},
 "encoding":{"x":{"field":"k","type":"nominal","scale":{"type":"band","domain":["Full","Partial","Flex","None"],"range":[1170,1250],"paddingInner":0.15,"paddingOuter":0},"axis":null},
 "y":{"field":"v","type":"quantitative","scale":{"type":"linear","domain":[0,40],"range":[172,132],"nice":false,"zero":false},"axis":null},"y2":{"datum":0}}},
{"data":{"name":"bars"},"transform":[{"filter":"datum.grp == 'FY21'"}],"mark":{"type":"bar"},
 "encoding":{"x":{"field":"k","type":"nominal","scale":{"type":"band","domain":["Full","Partial","Flex","None"],"range":[1170,1250],"paddingInner":0.15,"paddingOuter":0},"axis":null},
 "y":{"field":"v","type":"quantitative","scale":{"type":"linear","domain":[0,40],"range":[244,204],"nice":false,"zero":false},"axis":null},"y2":{"datum":0},
 "color":{"field":"k","type":"nominal","scale":{"domain":["Full","Partial","Flex","None"],"range":["#2e75b6","#2e75b6","#808000","#808000"]},"legend":null}}},
{"data":{"name":"bars"},"transform":[{"filter":"datum.grp == 'FY21' && (datum.k == 'Partial' || datum.k == 'Flex')"}],"mark":{"type":"bar","fill":{"gradient":"linear","x1":0,"y1":0,"x2":1,"y2":1,"stops":[{"offset":0,"color":"#404040"},{"offset":0.0833,"color":"#404040"},{"offset":0.0833,"color":"rgba(64,64,64,0)"},{"offset":0.1667,"color":"rgba(64,64,64,0)"},{"offset":0.1667,"color":"#404040"},{"offset":0.25,"color":"#404040"},{"offset":0.25,"color":"rgba(64,64,64,0)"},{"offset":0.3333,"color":"rgba(64,64,64,0)"},{"offset":0.3333,"color":"#404040"},{"offset":0.4167,"color":"#404040"},{"offset":0.4167,"color":"rgba(64,64,64,0)"},{"offset":0.5,"color":"rgba(64,64,64,0)"},{"offset":0.5,"color":"#404040"},{"offset":0.5833,"color":"#404040"},{"offset":0.5833,"color":"rgba(64,64,64,0)"},{"offset":0.6667,"color":"rgba(64,64,64,0)"},{"offset":0.6667,"color":"#404040"},{"offset":0.75,"color":"#404040"},{"offset":0.75,"color":"rgba(64,64,64,0)"},{"offset":0.8333,"color":"rgba(64,64,64,0)"},{"offset":0.8333,"color":"#404040"},{"offset":0.9167,"color":"#404040"},{"offset":0.9167,"color":"rgba(64,64,64,0)"},{"offset":1,"color":"rgba(64,64,64,0)"}]}},
 "encoding":{"x":{"field":"k","type":"nominal","scale":{"type":"band","domain":["Full","Partial","Flex","None"],"range":[1170,1250],"paddingInner":0.15,"paddingOuter":0},"axis":null},
 "y":{"field":"v","type":"quantitative","scale":{"type":"linear","domain":[0,40],"range":[244,204],"nice":false,"zero":false},"axis":null},"y2":{"datum":0}}},
{"data":{"name":"bars"},"transform":[{"filter":"datum.grp == 'FY22'"}],"mark":{"type":"bar"},
 "encoding":{"x":{"field":"k","type":"nominal","scale":{"type":"band","domain":["Full","Partial","Flex","None"],"range":[1170,1250],"paddingInner":0.15,"paddingOuter":0},"axis":null},
 "y":{"field":"v","type":"quantitative","scale":{"type":"linear","domain":[0,40],"range":[324,284],"nice":false,"zero":false},"axis":null},"y2":{"datum":0},
 "color":{"field":"k","type":"nominal","scale":{"domain":["Full","Partial","Flex","None"],"range":["#2e75b6","#2e75b6","#808000","#808000"]},"legend":null}}},
{"data":{"name":"bars"},"transform":[{"filter":"datum.grp == 'FY22' && (datum.k == 'Partial' || datum.k == 'Flex')"}],"mark":{"type":"bar","fill":{"gradient":"linear","x1":0,"y1":0,"x2":1,"y2":1,"stops":[{"offset":0,"color":"#404040"},{"offset":0.0833,"color":"#404040"},{"offset":0.0833,"color":"rgba(64,64,64,0)"},{"offset":0.1667,"color":"rgba(64,64,64,0)"},{"offset":0.1667,"color":"#404040"},{"offset":0.25,"color":"#404040"},{"offset":0.25,"color":"rgba(64,64,64,0)"},{"offset":0.3333,"color":"rgba(64,64,64,0)"},{"offset":0.3333,"color":"#404040"},{"offset":0.4167,"color":"#404040"},{"offset":0.4167,"color":"rgba(64,64,64,0)"},{"offset":0.5,"color":"rgba(64,64,64,0)"},{"offset":0.5,"color":"#404040"},{"offset":0.5833,"color":"#404040"},{"offset":0.5833,"color":"rgba(64,64,64,0)"},{"offset":0.6667,"color":"rgba(64,64,64,0)"},{"offset":0.6667,"color":"#404040"},{"offset":0.75,"color":"#404040"},{"offset":0.75,"color":"rgba(64,64,64,0)"},{"offset":0.8333,"color":"rgba(64,64,64,0)"},{"offset":0.8333,"color":"#404040"},{"offset":0.9167,"color":"#404040"},{"offset":0.9167,"color":"rgba(64,64,64,0)"},{"offset":1,"color":"rgba(64,64,64,0)"}]}},
 "encoding":{"x":{"field":"k","type":"nominal","scale":{"type":"band","domain":["Full","Partial","Flex","None"],"range":[1170,1250],"paddingInner":0.15,"paddingOuter":0},"axis":null},
 "y":{"field":"v","type":"quantitative","scale":{"type":"linear","domain":[0,40],"range":[324,284],"nice":false,"zero":false},"axis":null},"y2":{"datum":0}}},
{"data":{"name":"aiaR"},"mark":{"type":"line","color":"#7f7f7f","strokeWidth":2,"strokeDash":[5,3]},
 "encoding":{"x":{"field":"fy","type":"ordinal","scale":{"type":"point","domain":["FY18","FY19","FY20","FY21","FY22","FY23","FY24","FY25","FY26"],"range":[863,1250],"padding":0.5},
  "axis":{"orient":"bottom","offset":-173,"title":null,"ticks":false,"tickSize":0,"labelPadding":10,"labelFont":"Lato","labelFontWeight":"bold","labelFontSize":11,"labelColor":"#404040","domainColor":"#d9d9d9","domainWidth":1,"grid":false,"labelAngle":0}},
 "y":{"field":"open","type":"quantitative","scale":{"type":"linear","domain":[0,2000],"range":[418.8,343.5],"nice":false,"zero":false},"axis":null}}},
{"data":{"name":"aiaR"},"mark":{"type":"line","color":"#2e75b6","strokeWidth":2,"point":{"filled":true,"size":20,"color":"#2e75b6"}},
 "encoding":{"x":{"field":"fy","type":"ordinal","scale":{"type":"point","domain":["FY18","FY19","FY20","FY21","FY22","FY23","FY24","FY25","FY26"],"range":[863,1250],"padding":0.5},"axis":null},
 "y":{"field":"fil","type":"quantitative","scale":{"type":"linear","domain":[0,2000],"range":[418.8,343.5],"nice":false,"zero":false},"axis":null}}},
{"data":{"name":"aiaR"},"mark":{"type":"text","font":"Lato","fontSize":10,"color":"#5b9bd5","opacity":0.8,"dy":-14,"baseline":"middle"},
 "encoding":{"x":{"field":"fy","type":"ordinal","scale":{"type":"point","domain":["FY18","FY19","FY20","FY21","FY22","FY23","FY24","FY25","FY26"],"range":[863,1250],"padding":0.5},"axis":null},
 "y":{"field":"fil","type":"quantitative","scale":{"type":"linear","domain":[0,2000],"range":[418.8,343.5],"nice":false,"zero":false},"axis":null},
 "text":{"field":"fil","type":"quantitative","format":",.0f"}}},
{"data":{"name":"aiaR"},"mark":{"type":"text","font":"Lato","fontSize":10,"color":"#7f7f7f","opacity":0.8,"dy":15,"baseline":"middle"},
 "encoding":{"x":{"field":"fy","type":"ordinal","scale":{"type":"point","domain":["FY18","FY19","FY20","FY21","FY22","FY23","FY24","FY25","FY26"],"range":[863,1250],"padding":0.5},"axis":null},
 "y":{"field":"open","type":"quantitative","scale":{"type":"linear","domain":[0,2000],"range":[418.8,343.5],"nice":false,"zero":false},"axis":null},
 "text":{"field":"open","type":"quantitative","format":",.0f"}}},
{"data":{"name":"appR"},"mark":{"type":"line","color":"#7f7f7f","strokeWidth":2,"strokeDash":[5,3]},
 "encoding":{"x":{"field":"fy","type":"ordinal","scale":{"type":"point","domain":["FY18","FY19","FY20","FY21","FY22","FY23","FY24","FY25","FY26"],"range":[863,1250],"padding":0.5},
  "axis":{"orient":"bottom","offset":-26,"title":null,"ticks":false,"tickSize":0,"labelPadding":10,"labelFont":"Lato","labelFontWeight":"bold","labelFontSize":11,"labelColor":"#404040","domainColor":"#d9d9d9","domainWidth":1,"grid":false,"labelAngle":0}},
 "y":{"field":"open","type":"quantitative","scale":{"type":"linear","domain":[4000,11000],"range":[589.6,455.4],"nice":false,"zero":false},"axis":null}}},
{"data":{"name":"appR"},"mark":{"type":"line","color":"#808000","strokeWidth":2,"point":{"filled":true,"size":20,"color":"#808000"}},
 "encoding":{"x":{"field":"fy","type":"ordinal","scale":{"type":"point","domain":["FY18","FY19","FY20","FY21","FY22","FY23","FY24","FY25","FY26"],"range":[863,1250],"padding":0.5},"axis":null},
 "y":{"field":"fil","type":"quantitative","scale":{"type":"linear","domain":[4000,11000],"range":[589.6,455.4],"nice":false,"zero":false},"axis":null}}},
{"data":{"name":"appR"},"transform":[{"filter":{"field":"fy","oneOf":["FY18","FY19","FY20"]}}],"mark":{"type":"text","font":"Lato","fontSize":10,"color":"#a0a030","opacity":0.8,"dy":14,"baseline":"middle"},
 "encoding":{"x":{"field":"fy","type":"ordinal","scale":{"type":"point","domain":["FY18","FY19","FY20","FY21","FY22","FY23","FY24","FY25","FY26"],"range":[863,1250],"padding":0.5},"axis":null},
 "y":{"field":"fil","type":"quantitative","scale":{"type":"linear","domain":[4000,11000],"range":[589.6,455.4],"nice":false,"zero":false},"axis":null},
 "text":{"field":"fil","type":"quantitative","format":",.0f"}}},
{"data":{"name":"appR"},"transform":[{"filter":{"not":{"field":"fy","oneOf":["FY18","FY19","FY20"]}}}],"mark":{"type":"text","font":"Lato","fontSize":10,"color":"#a0a030","opacity":0.8,"dy":-13,"baseline":"middle"},
 "encoding":{"x":{"field":"fy","type":"ordinal","scale":{"type":"point","domain":["FY18","FY19","FY20","FY21","FY22","FY23","FY24","FY25","FY26"],"range":[863,1250],"padding":0.5},"axis":null},
 "y":{"field":"fil","type":"quantitative","scale":{"type":"linear","domain":[4000,11000],"range":[589.6,455.4],"nice":false,"zero":false},"axis":null},
 "text":{"field":"fil","type":"quantitative","format":",.0f"}}},
{"data":{"name":"appR"},"transform":[{"filter":{"field":"fy","oneOf":["FY18","FY19","FY20"]}}],"mark":{"type":"text","font":"Lato","fontSize":10,"color":"#7f7f7f","opacity":0.8,"dy":-12,"baseline":"middle"},
 "encoding":{"x":{"field":"fy","type":"ordinal","scale":{"type":"point","domain":["FY18","FY19","FY20","FY21","FY22","FY23","FY24","FY25","FY26"],"range":[863,1250],"padding":0.5},"axis":null},
 "y":{"field":"open","type":"quantitative","scale":{"type":"linear","domain":[4000,11000],"range":[589.6,455.4],"nice":false,"zero":false},"axis":null},
 "text":{"field":"open","type":"quantitative","format":",.0f"}}},
{"data":{"name":"appR"},"transform":[{"filter":{"not":{"field":"fy","oneOf":["FY18","FY19","FY20"]}}}],"mark":{"type":"text","font":"Lato","fontSize":10,"color":"#7f7f7f","opacity":0.8,"dy":15,"baseline":"middle"},
 "encoding":{"x":{"field":"fy","type":"ordinal","scale":{"type":"point","domain":["FY18","FY19","FY20","FY21","FY22","FY23","FY24","FY25","FY26"],"range":[863,1250],"padding":0.5},"axis":null},
 "y":{"field":"open","type":"quantitative","scale":{"type":"linear","domain":[4000,11000],"range":[589.6,455.4],"nice":false,"zero":false},"axis":null},
 "text":{"field":"open","type":"quantitative","format":",.0f"}}}
]
}
